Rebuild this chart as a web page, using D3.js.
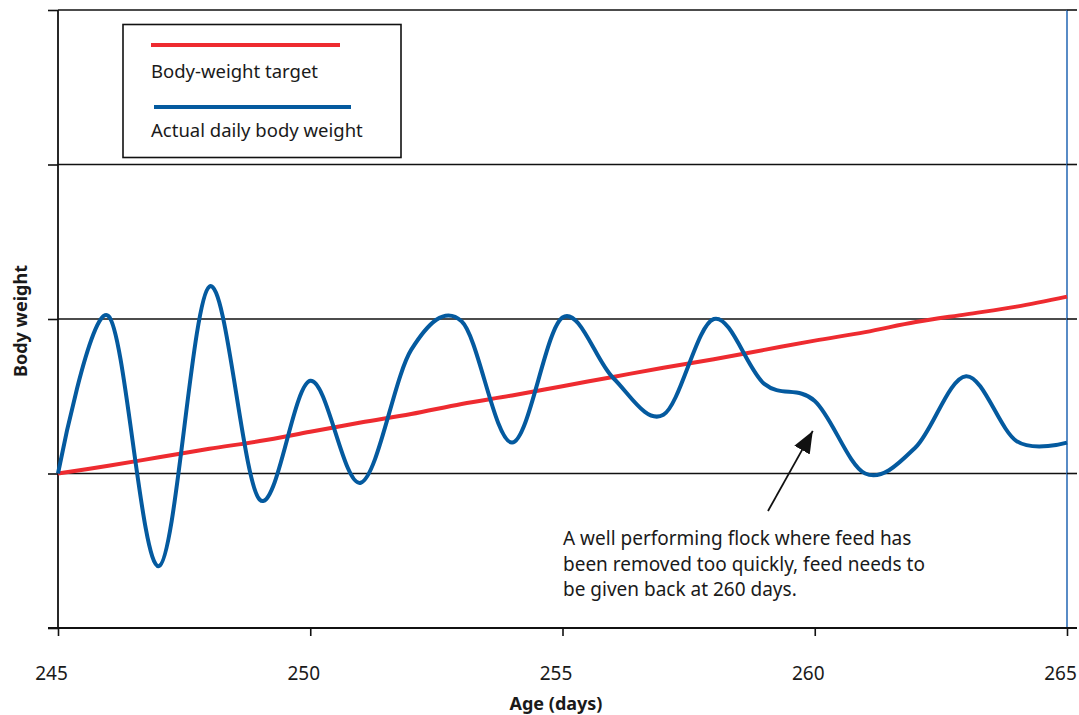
<!DOCTYPE html>
<html><head><meta charset="utf-8">
<script src="https://cdn.jsdelivr.net/npm/d3@7"></script>
<style>
body{margin:0;background:#fff;}
svg{display:block;}
text{font-family:"Noto Sans",sans-serif;fill:#1a1a1a;}
</style></head>
<body>
<svg id="chart" width="1079" height="715"></svg>
<script>
const days = [245,246,247,248,249,250,251,252,253,254,255,256,257,258,259,260,261,262,263,264,265];
const actualWeight = [1.00,2.02,0.40,2.21,0.83,1.60,0.94,1.80,1.985,1.20,2.01,1.62,1.38,2.00,1.58,1.47,1.00,1.17,1.63,1.21,1.20];
const targetWeight = [1.00,1.05,1.105,1.16,1.21,1.27,1.33,1.385,1.45,1.505,1.565,1.625,1.685,1.74,1.80,1.86,1.915,1.98,2.03,2.08,2.145];
const xTicks = [245,250,255,260,265];
const yTicks = [0,1,2,3,4];
const legendLabels = ["Body-weight target","Actual daily body weight"];
const noteLines = ["A well performing flock where feed has","been removed too quickly, feed needs to","be given back at 260 days."];
const noteTarget = [260, 1.47];

const svg = d3.select("#chart");
const x = d3.scaleLinear().domain([245,265]).range([58,1067]);
const y = d3.scaleLinear().domain([0,4]).range([628,10]);

// horizontal gridlines
svg.append("g").selectAll("line").data(yTicks.filter(d=>d>0)).join("line")
  .attr("x1",x(245)).attr("x2",x(265))
  .attr("y1",d=>y(d)).attr("y2",d=>y(d))
  .attr("stroke","#111").attr("stroke-width",1.6);

// right axis (blue line) with ticks
svg.append("line").attr("x1",x(265)).attr("x2",x(265)).attr("y1",y(4)).attr("y2",y(0))
  .attr("stroke","#2f6fb8").attr("stroke-width",1.6);
svg.append("g").selectAll("line").data(yTicks).join("line")
  .attr("x1",x(265)).attr("x2",x(265)+10)
  .attr("y1",d=>y(d)).attr("y2",d=>y(d))
  .attr("stroke","#111").attr("stroke-width",1.6);

// left axis
const yAxis = d3.axisLeft(y).tickValues(yTicks).tickSize(10).tickFormat("");
const gy = svg.append("g").attr("transform",`translate(${x(245)},0)`).call(yAxis);
gy.select(".domain").attr("stroke","#111").attr("stroke-width",1.8).attr("d",`M0,${y(4)}V${y(0)}`);
gy.selectAll(".tick line").attr("stroke","#111").attr("stroke-width",1.6);

// bottom axis
const xAxis = d3.axisBottom(x).tickValues(xTicks).tickSize(8).tickPadding(31).tickFormat(d3.format("d"));
const gx = svg.append("g").attr("transform",`translate(0,${y(0)})`).call(xAxis);
gx.select(".domain").attr("stroke","#111").attr("stroke-width",1.8).attr("d",`M${x(245)-10},0H${x(265)+10}`);
gx.selectAll(".tick line").attr("stroke","#111").attr("stroke-width",1.6);
gx.selectAll(".tick text").attr("font-size",19).attr("dx",-7).attr("font-family","Noto Sans, sans-serif").attr("fill","#1a1a1a");

// series
const target = days.map((d,i)=>[d,targetWeight[i]]);
const actual = days.map((d,i)=>[d,actualWeight[i]]);
svg.append("path").datum(target)
  .attr("d",d3.line().x(d=>x(d[0])).y(d=>y(d[1])).curve(d3.curveCatmullRom.alpha(0)))
  .attr("fill","none").attr("stroke","#ee2b30").attr("stroke-width",4);
svg.append("path").datum(actual)
  .attr("d",d3.line().x(d=>x(d[0])).y(d=>y(d[1])).curve(d3.curveCatmullRom.alpha(0)))
  .attr("fill","none").attr("stroke","#045a9f").attr("stroke-width",4).attr("stroke-linejoin","round");

// legend
const lg = svg.append("g");
lg.append("rect").attr("x",123).attr("y",24.5).attr("width",278).attr("height",133)
  .attr("fill","#fff").attr("stroke","#111").attr("stroke-width",1.6);
lg.append("line").attr("x1",151).attr("x2",340).attr("y1",45).attr("y2",45).attr("stroke","#ee2b30").attr("stroke-width",4);
lg.append("line").attr("x1",154).attr("x2",351).attr("y1",107).attr("y2",107).attr("stroke","#045a9f").attr("stroke-width",4);
lg.append("text").attr("x",151).attr("y",78).attr("font-size",18.5).text(legendLabels[0]);
lg.append("text").attr("x",151).attr("y",137).attr("font-size",18.5).text(legendLabels[1]);

// axis titles
svg.append("text").attr("transform",`translate(27,${y(2)+2}) rotate(-90)`).attr("text-anchor","middle")
  .attr("font-size",18).attr("font-weight","bold").text("Body weight");
svg.append("text").attr("x",556).attr("y",710).attr("text-anchor","middle")
  .attr("font-size",18).attr("font-weight","bold").text("Age (days)");

// annotation arrow
svg.append("defs").append("marker").attr("id","arr").attr("viewBox","0 0 10 10")
  .attr("refX",10).attr("refY",5).attr("markerWidth",22).attr("markerHeight",22)
  .attr("markerUnits","userSpaceOnUse").attr("orient","auto")
  .append("path").attr("d","M0,1L10,5L0,9z").attr("fill","#111");
const tipX = x(noteTarget[0]) - 2, tipY = y(noteTarget[1]) + 30;
svg.append("line").attr("x1",768).attr("y1",511).attr("x2",tipX).attr("y2",tipY)
  .attr("stroke","#111").attr("stroke-width",1.8).attr("marker-end","url(#arr)");

const nt = svg.append("text").attr("font-size",19);
noteLines.forEach((t,i)=>nt.append("tspan").attr("x",563).attr("y",545+i*25.5).text(t));
</script>
</body></html>
